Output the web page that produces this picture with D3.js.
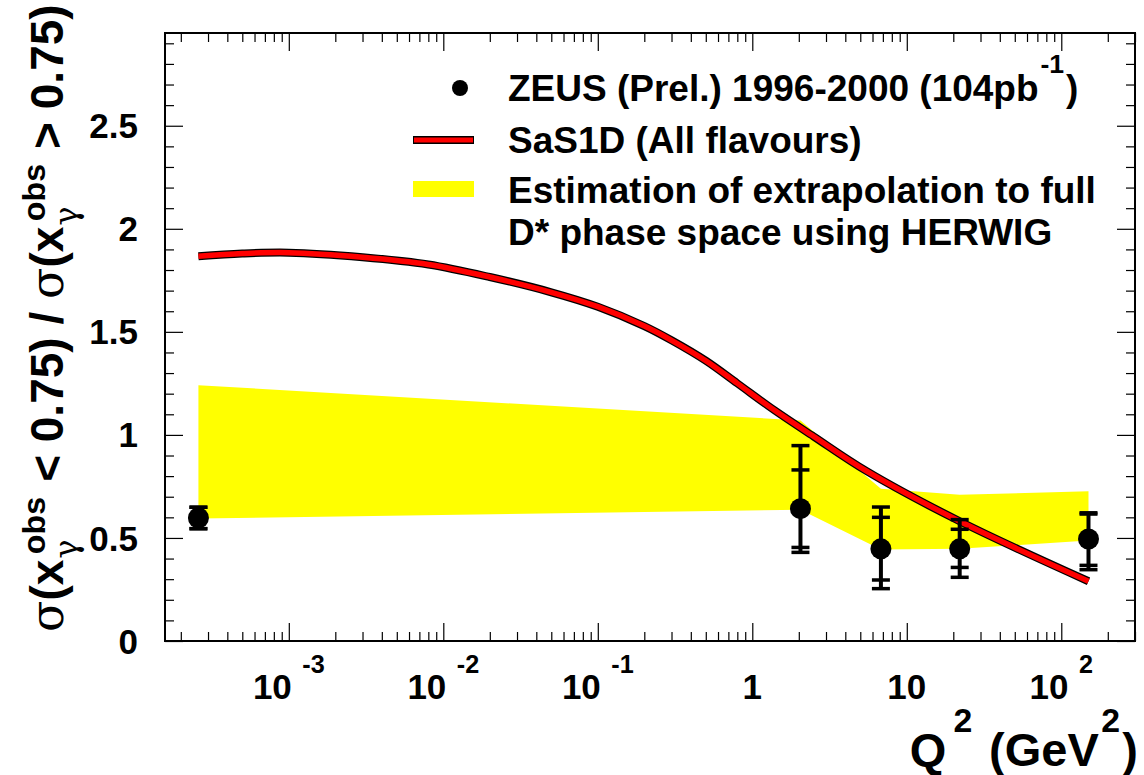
<!DOCTYPE html>
<html>
<head>
<meta charset="utf-8">
<script src="https://cdn.jsdelivr.net/npm/d3@7"></script>
<style>
  html, body { margin: 0; padding: 0; background: #fff; }
  svg { display: block; font-family: "Liberation Sans", Arial, Helvetica, sans-serif; font-weight: bold; }
  text { white-space: pre; }
</style>
</head>
<body>
<svg id="chart" width="1144" height="775"></svg>
<script>
// ZEUS (Prel.) 1996-2000 ratio measurement
const zeusQ2      = [2.6e-4, 2.05, 6.8, 22, 150];
const zeusRatio   = [0.597, 0.642, 0.447, 0.447, 0.495];
const zeusStatHi  = [0.649, 0.830, 0.600, 0.542, 0.616];
const zeusStatLo  = [0.545, 0.454, 0.296, 0.357, 0.367];
const zeusTotHi   = [0.649, 0.948, 0.650, 0.589, 0.622];
const zeusTotLo   = [0.545, 0.430, 0.254, 0.309, 0.346];

// SaS1D prediction (all flavours)
const sasQ2  = [2.6e-4, 5e-4, 1e-3, 3e-3, 8e-3, 0.02, 0.05, 0.1, 0.2, 0.3, 0.5, 0.8, 1.4, 2.5, 5.5, 22, 150];
const sasVal = [1.867, 1.880, 1.884, 1.862, 1.827, 1.766, 1.692, 1.622, 1.528, 1.459, 1.360, 1.250, 1.118, 0.992, 0.824, 0.581, 0.290];

// HERWIG extrapolation band
const bandQ2 = [2.6e-4, 2.05, 6.8, 22, 150];
const bandLo = [0.594, 0.637, 0.444, 0.447, 0.488];
const bandHi = [1.241, 1.070, 0.739, 0.710, 0.726];

// Axis ticks and labels
const xMajorTicks = [1e-3, 1e-2, 1e-1, 1, 10, 100];
const xTickBase   = ["10", "10", "10", "1", "10", "10"];
const xTickExp    = ["-3", "-2", "-1", "", "", "2"];
const yMajorTicks = [0, 0.5, 1, 1.5, 2, 2.5];
const yTickLabels = ["0", "0.5", "1", "1.5", "2", "2.5"];

const svg = d3.select("#chart");
const L = 165, R = 1135, T = 33, B = 641;

const x = d3.scaleLog().domain([1.58e-4, 300]).range([L, R]);
const y = d3.scaleLinear().domain([0, 2.95]).range([B, T]);

// lays out text with super/subscripts; returns group and total width
function richText(parent, parts, size) {
  const g = parent.append("g");
  let cx = 0, hold = null;
  parts.forEach(p => {
    const fs = size * (p.sc || 1);
    const gap = (p.gap || 0) * size;
    const px = hold ? hold.x + gap : cx + gap;
    const t = g.append("text")
      .attr("x", px)
      .attr("y", -(p.rise || 0) * size)
      .attr("font-size", fs)
      .attr("font-family", p.font || null)
      .attr("font-weight", p.weight || null)
      .text(p.t);
    const w = t.node().getComputedTextLength();
    if (p.stack) {
      hold = { x: cx, w: w };
    } else if (hold) {
      cx = Math.max(hold.x + hold.w, px + w);
      hold = null;
    } else {
      cx = px + w;
    }
  });
  return { g: g, width: cx };
}

// HERWIG band
const bandData = bandQ2.map((q, i) => ({ q: q, lo: bandLo[i], hi: bandHi[i] }));
svg.append("path")
  .datum(bandData)
  .attr("fill", "#ffff00")
  .attr("d", d3.area().x(d => x(d.q)).y0(d => y(d.lo)).y1(d => y(d.hi)));

// SaS1D curve: black outline under red core
const sasData = sasQ2.map((q, i) => ({ q: q, v: sasVal[i] }));
const sasLine = d3.line().x(d => x(d.q)).y(d => y(d.v)).curve(d3.curveCatmullRom.alpha(0.5));
svg.append("path").datum(sasData).attr("fill", "none").attr("stroke", "#000")
  .attr("stroke-width", 8).attr("d", sasLine);
svg.append("path").datum(sasData).attr("fill", "none").attr("stroke", "#ff0000")
  .attr("stroke-width", 5.5).attr("d", sasLine);

// ZEUS points with inner (stat) and outer (total) error caps
const pts = zeusQ2.map((q, i) => ({
  q: q, v: zeusRatio[i],
  sh: zeusStatHi[i], sl: zeusStatLo[i], th: zeusTotHi[i], tl: zeusTotLo[i]
}));
const pg = svg.append("g").selectAll("g").data(pts).join("g");
pg.append("line")
  .attr("x1", d => x(d.q)).attr("x2", d => x(d.q))
  .attr("y1", d => y(d.th)).attr("y2", d => y(d.tl))
  .attr("stroke", "#000").attr("stroke-width", 4);
["sh", "sl", "th", "tl"].forEach(k => {
  pg.append("line")
    .attr("x1", d => x(d.q) - 9).attr("x2", d => x(d.q) + 9)
    .attr("y1", d => y(d[k])).attr("y2", d => y(d[k]))
    .attr("stroke", "#000").attr("stroke-width", 3.5);
});
pg.append("circle")
  .attr("cx", d => x(d.q)).attr("cy", d => y(d.v)).attr("r", 10.5)
  .attr("fill", "#000");

// frame
svg.append("rect")
  .attr("x", L).attr("y", T).attr("width", R - L).attr("height", B - T)
  .attr("fill", "none").attr("stroke", "#000").attr("stroke-width", 2);

// tick marks on all four sides, pointing inward
const [x0, x1] = x.domain();
const xMinor = [];
for (let e = Math.floor(Math.log10(x0)); e <= Math.ceil(Math.log10(x1)); e++) {
  for (let k = 2; k <= 9; k++) {
    const v = k * Math.pow(10, e);
    if (v >= x0 && v <= x1) xMinor.push(v);
  }
}
const yMinor = d3.range(0, 29.5).map(i => i / 10).filter(v => !yMajorTicks.some(m => Math.abs(m - v) < 1e-6));

function ticks(axisGen, tx, vals, size) {
  svg.append("g").attr("transform", tx)
    .call(axisGen.tickValues(vals).tickSize(size).tickFormat(""))
    .call(g => g.select(".domain").remove())
    .call(g => g.selectAll("line").attr("stroke", "#000").attr("stroke-width", 1.2));
}
ticks(d3.axisBottom(x), `translate(0,${B})`, xMajorTicks, -18);
ticks(d3.axisBottom(x), `translate(0,${B})`, xMinor, -9);
ticks(d3.axisTop(x), `translate(0,${T})`, xMajorTicks, -18);
ticks(d3.axisTop(x), `translate(0,${T})`, xMinor, -9);
ticks(d3.axisLeft(y), `translate(${L},0)`, yMajorTicks, -18);
ticks(d3.axisLeft(y), `translate(${L},0)`, yMinor, -9);
ticks(d3.axisRight(y), `translate(${R},0)`, yMajorTicks, -18);
ticks(d3.axisRight(y), `translate(${R},0)`, yMinor, -9);

// y tick labels
svg.append("g").selectAll("text").data(yMajorTicks).join("text")
  .attr("x", 138).attr("y", d => y(d)).attr("dy", "0.36em")
  .attr("text-anchor", "end").attr("font-size", 35)
  .text((d, i) => yTickLabels[i]);

// x tick labels (powers of ten)
xMajorTicks.forEach((v, i) => {
  const parts = [{ t: xTickBase[i] }];
  if (xTickExp[i]) parts.push({ t: xTickExp[i], sc: 0.72, rise: 0.75, gap: 0.3 });
  const r = richText(svg, parts, 35);
  r.g.attr("transform", `translate(${x(v) - r.width / 2},699)`);
});

// x axis title
const xt = richText(svg, [
  { t: "Q" }, { t: "2", sc: 0.72, rise: 0.72, gap: 0.15 },
  { t: " (GeV", gap: 0.08 }, { t: "2", sc: 0.72, rise: 0.72, gap: 0.05 }, { t: ")", gap: 0.05 }
], 47);
xt.g.attr("transform", `translate(${1138 - xt.width},766)`);

// y axis title
const yt = richText(svg, [
  { t: "σ", font: "DejaVu Serif", weight: "normal" }, { t: "(x" },
  { t: "γ", sc: 0.7, rise: -0.3, stack: true, gap: 0.02, font: "DejaVu Serif", weight: "normal" },
  { t: "obs", sc: 0.7, rise: 0.4, gap: 0.12 },
  { t: " < 0.75) / ", gap: 0.05 },
  { t: "σ", font: "DejaVu Serif", weight: "normal" }, { t: "(x" },
  { t: "γ", sc: 0.7, rise: -0.3, stack: true, gap: 0.02, font: "DejaVu Serif", weight: "normal" },
  { t: "obs", sc: 0.7, rise: 0.4, gap: 0.12 },
  { t: " > 0.75)", gap: 0.05 }
], 46);
yt.g.attr("transform", `translate(63,632) rotate(-90)`);

// legend
const lg = svg.append("g");
lg.append("circle").attr("cx", 460).attr("cy", 88).attr("r", 8).attr("fill", "#000");
lg.append("line").attr("x1", 413).attr("x2", 474).attr("y1", 140).attr("y2", 140)
  .attr("stroke", "#000").attr("stroke-width", 8);
lg.append("line").attr("x1", 414).attr("x2", 473).attr("y1", 140).attr("y2", 140)
  .attr("stroke", "#ff0000").attr("stroke-width", 5);
lg.append("rect").attr("x", 413).attr("y", 181).attr("width", 61).attr("height", 16)
  .attr("fill", "#ffff00");

const l1 = richText(lg, [
  { t: "ZEUS (Prel.) 1996-2000 (104pb" },
  { t: "-1", sc: 0.72, rise: 0.75, gap: 0.05 },
  { t: ")", gap: 0.05 }
], 37);
l1.g.attr("transform", "translate(508,101)");
lg.append("text").attr("x", 508).attr("y", 153).attr("font-size", 37).text("SaS1D (All flavours)");
lg.append("text").attr("x", 508).attr("y", 203).attr("font-size", 37).text("Estimation of extrapolation to full");
lg.append("text").attr("x", 508).attr("y", 245).attr("font-size", 37).text("D* phase space using HERWIG");
</script>
</body>
</html>
